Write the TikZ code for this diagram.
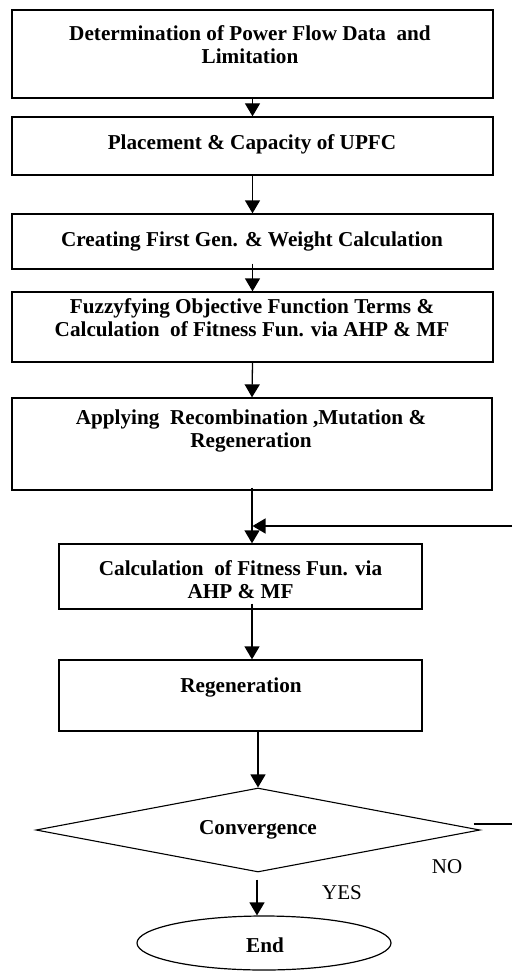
\documentclass[tikz,border=0pt]{standalone}
\usepackage{fontspec}
\setmainfont{Liberation Serif}
\usetikzlibrary{arrows.meta,shapes.geometric}
\begin{document}
\begin{tikzpicture}[x=1pt,y=-1pt,
  box/.style={draw,line width=1.3pt,inner sep=0pt,minimum width=481pt},
  sbox/.style={draw,line width=1.3pt,inner sep=0pt,minimum width=363pt},
  txt/.style={inner sep=0pt,align=center,anchor=base,font=\bfseries\fontsize{21.2}{23}\selectfont},
  lbl/.style={inner sep=0pt,anchor=base,font=\fontsize{21}{23}\selectfont},
  arr/.style={line width=1.3pt,-{Triangle[length=13pt,width=15pt]}}]
\useasboundingbox (0,0) rectangle (512,971);
\node[box,minimum height=88pt] (b1) at (252.5,54) {};
\node[box,minimum height=58pt] (b2) at (252.5,146) {};
\node[box,minimum height=55pt] (b3) at (252.5,241.5) {};
\node[box,minimum height=70pt] (b4) at (252.5,327) {};
\node[box,minimum height=92pt,minimum width=480pt] (b5) at (252,444) {};
\node[sbox,minimum height=65pt] (b6) at (240.5,576.5) {};
\node[sbox,minimum height=71pt] (b7) at (240.5,695.5) {};
\node[draw,diamond,line width=1.1pt,inner sep=0pt,minimum width=444pt,minimum height=84pt] (d) at (258,830) {};
\node[draw,ellipse,line width=1.2pt,inner sep=0pt,minimum width=254pt,minimum height=54pt] (e) at (264,943) {};

\node[txt] (t1) at (250,64) {Determination of Power Flow Data~ and\\Limitation};
\node[txt] (t2) at (252,149) {Placement \& Capacity of UPFC};
\node[txt] (t3) at (252,246) {Creating First Gen. \& Weight Calculation};
\node[txt] (t4) at (252,336) {Fuzzyfying Objective Function Terms \&\\Calculation~ of Fitness Fun. via AHP \& MF};
\node[txt] (t5) at (251,447) {Applying~ Recombination ,Mutation \&\\Regeneration};
\node[txt] (t6) at (240.5,598) {Calculation~ of Fitness Fun. via\\AHP \& MF};
\node[txt] (t7) at (241,692) {Regeneration};
\node[txt] (t8) at (258,834) {Convergence};
\node[txt] (t9) at (265,952) {End};
\node[lbl] (no) at (447,873) {NO};
\node[lbl] (yes) at (342,899) {YES};

\draw[arr] (b1.south) -- (b2.north);
\draw[arr] (b2.south) -- (b3.north);
\draw[arr] ([yshift=6pt]b3.south) -- (b4.north);
\draw[arr] (b4.south) -- (b5.north);
\draw[arr] ([yshift=3pt]b5.south) -- (b5.south |- b6.north);
\draw[arr] ([yshift=6pt]b6.south -| b5.south) -- (b5.south |- b7.north);
\draw[arr] (d.north |- b7.south) -- (d.north);
\draw[arr] ([xshift=-1pt,yshift=-7pt]d.south) -- ([xshift=-1pt]d.south |- e.north);
\coordinate (fbtop) at (512,526);
\coordinate (fbbot) at (512,824);
\draw[line width=1.3pt] ([xshift=-7pt]d.east |- fbbot) -- (fbbot);
\draw[arr] (fbtop) -- (fbtop -| b1.south);
\end{tikzpicture}
\end{document}
